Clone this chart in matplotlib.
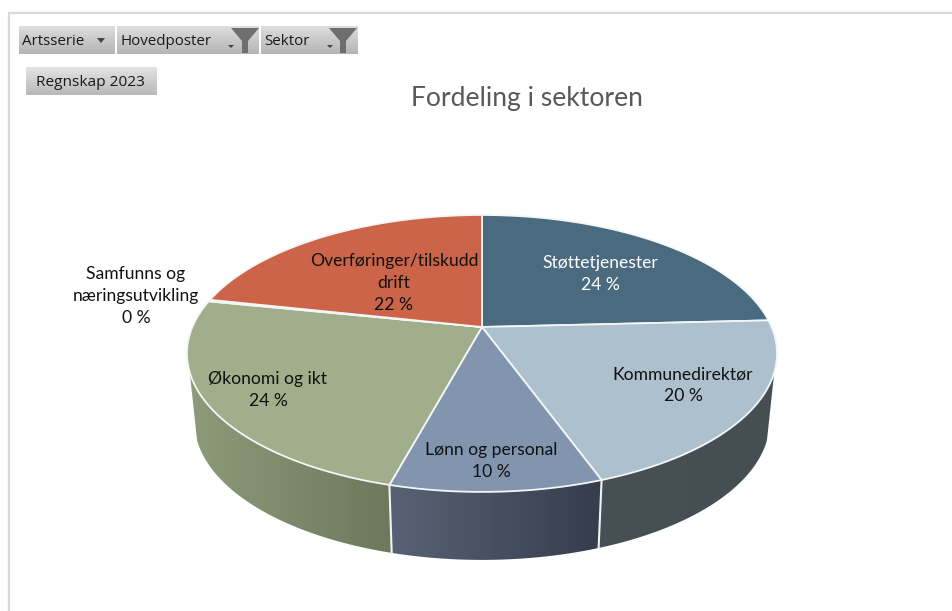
import numpy as np
import matplotlib
matplotlib.use("Agg")
import matplotlib.pyplot as plt
from matplotlib.patches import Polygon, Rectangle

# --- data (shares; labels show rounded values)
categories = ["Støttetjenester", "Kommunedirektør", "Lønn og personal",
              "Økonomi og ikt", "Samfunns og\nnæringsutvikling", "Overføringer/tilskudd\ndrift"]
values = [24.2, 20.3, 9.7, 24.0, 0.2, 21.6]
percent_labels = ["24 %", "20 %", "10 %", "24 %", "0 %", "22 %"]
top_colors = ["#4a6b7f", "#acc1cd", "#8195ae", "#a0ae8b", "#c9d3dc", "#cb6448"]
side_left = ["#3a5465", "#465055", "#576375", "#8d9b7a", "#8d9b7a", "#8d9b7a"]
side_right = ["#3a5465", "#454e53", "#363d4c", "#6d785c", "#6d785c", "#6d785c"]
label_pos = [(600, 274), (683, 385), (491, 461), (268, 390), (136, 296), (394, 283)]
label_colors = ["white", "#111111", "#111111", "#111111", "#111111", "#111111"]
title = "Fordeling i sektoren"
buttons = [("Artsserie", 19, 115, 26, 54), ("Hovedposter", 117, 259, 26, 54), ("Sektor", 261, 358, 26, 54)]
report_button = ("Regnskap 2023", 26, 157, 67, 95)

fig = plt.figure(figsize=(9.52, 6.11), dpi=100, facecolor="white")
ax = fig.add_axes([0, 0, 1, 1])
ax.set_xlim(0, 952)
ax.set_ylim(611, 0)
ax.axis("off")

LABEL_FONT = "Lato"
UI_FONT = "Open Sans"

# frame
ax.plot([9, 9, 952], [611, 13, 13], color="#d9d9d9", lw=1.6, solid_joinstyle="miter")

# perspective disc
CX, CY, X, B, K, DEPTH, SHRINK = 482, 327, 289.6, 133.4, 0.191, 68, 0.975


def disc(theta):
    theta = np.asarray(theta, dtype=float)
    u, v = np.sin(theta), np.cos(theta)
    d = 1 + K * v
    return CX + X * u / d, CY - B * v / d


def lower(x, y):
    return CX + SHRINK * (x - CX), y + DEPTH


edges = np.concatenate([[0], np.cumsum(values)]) / sum(values) * 2 * np.pi
side_start, side_end = np.arccos(-0.32), 2 * np.pi - np.arccos(-0.32)


def hex_rgb(c):
    return np.array(matplotlib.colors.to_rgb(c))


# side walls with horizontal gradient
for i in range(len(values)):
    a, b = max(edges[i], side_start), min(edges[i + 1], side_end)
    if b <= a:
        continue
    th = np.linspace(a, b, 120)
    xt, yt = disc(th)
    xb, yb = lower(xt, yt)
    poly = np.column_stack([np.r_[xt, xb[::-1]], np.r_[yt, yb[::-1]]])
    patch = Polygon(poly, closed=True, fc="none", ec="none")
    ax.add_patch(patch)
    x0, x1 = poly[:, 0].min(), poly[:, 0].max()
    n = 256
    # gradient runs left to right on screen
    left, right = hex_rgb(side_left[i]), hex_rgb(side_right[i])
    grad = np.linspace(0, 1, n)[None, :, None]
    img = left[None, None, :] * (1 - grad) + right[None, None, :] * grad
    im = ax.imshow(img, extent=(x0, x1, poly[:, 1].max(), poly[:, 1].min()),
                   aspect="auto", zorder=2)
    im.set_clip_path(patch)
ax.set_xlim(0, 952)
ax.set_ylim(611, 0)

# separators on the side
for e in edges:
    if side_start < e < side_end:
        xt, yt = disc(e)
        xb, yb = lower(xt, yt)
        ax.plot([xt, xb], [yt, yb], color="#f2f2f2", lw=1.5, zorder=3)

# top wedges
for i in range(len(values)):
    th = np.linspace(edges[i], edges[i + 1], 200)
    x, y = disc(th)
    pts = np.column_stack([np.r_[CX, x], np.r_[CY, y]])
    ax.add_patch(Polygon(pts, closed=True, fc=top_colors[i], ec="#f4f6f6", lw=1.3,
                         joinstyle="round", zorder=4))

# labels
for name, pct, (lx, ly), col in zip(categories, percent_labels, label_pos, label_colors):
    ax.text(lx, ly, name + "\n" + pct, ha="center", va="center", ma="center",
            fontsize=12.6, family=LABEL_FONT, color=col, linespacing=1.45, zorder=6)

ax.text(527, 98.5, title, ha="center", va="center", fontsize=19.1, family=LABEL_FONT, color="#595959")


def button(x0, x1, y0, y1, top="#dedede", bottom="#b4b4b4"):
    t = hex_rgb(top)
    b = hex_rgb(bottom)
    g = np.linspace(0, 1, 64)[:, None, None]
    img = t[None, None, :] * (1 - g) + b[None, None, :] * g
    ax.imshow(img, extent=(x0, x1, y1, y0), aspect="auto", zorder=2)


for label, x0, x1, y0, y1 in buttons:
    button(x0, x1, y0, y1)
    ax.text(x0 + 3.5, (y0 + y1) / 2 + 1.5, label, ha="left", va="center", fontsize=10.9,
            family=UI_FONT, color="#1a1a1a", zorder=5)
# dropdown marker and funnels
ax.add_patch(Polygon([(97, 38), (105, 38), (101, 43)], fc="#444444", ec="none", zorder=5))
for ax_x in (231, 330):
    ax.add_patch(Polygon([(ax_x - 3, 45), (ax_x + 3, 45), (ax_x, 48)], fc="#444444", ec="none", zorder=5))
for fx in (245, 343):
    ax.add_patch(Polygon([(fx - 14, 28), (fx + 14, 28), (fx + 3, 41), (fx + 3, 53), (fx - 3, 53), (fx - 3, 41)],
                         fc="#6e6e6e", ec="none", zorder=5))

label, x0, x1, y0, y1 = report_button
button(x0, x1, y0, y1, top="#e4e4e4", bottom="#b8b8b8")
ax.text((x0 + x1) / 2 - 1, (y0 + y1) / 2 + 1.5, label, ha="center", va="center", fontsize=11.1,
        family=UI_FONT, color="#1a1a1a", zorder=5)

ax.set_xlim(0, 952)
ax.set_ylim(611, 0)
fig.savefig("out.png", dpi=100, facecolor="white")
